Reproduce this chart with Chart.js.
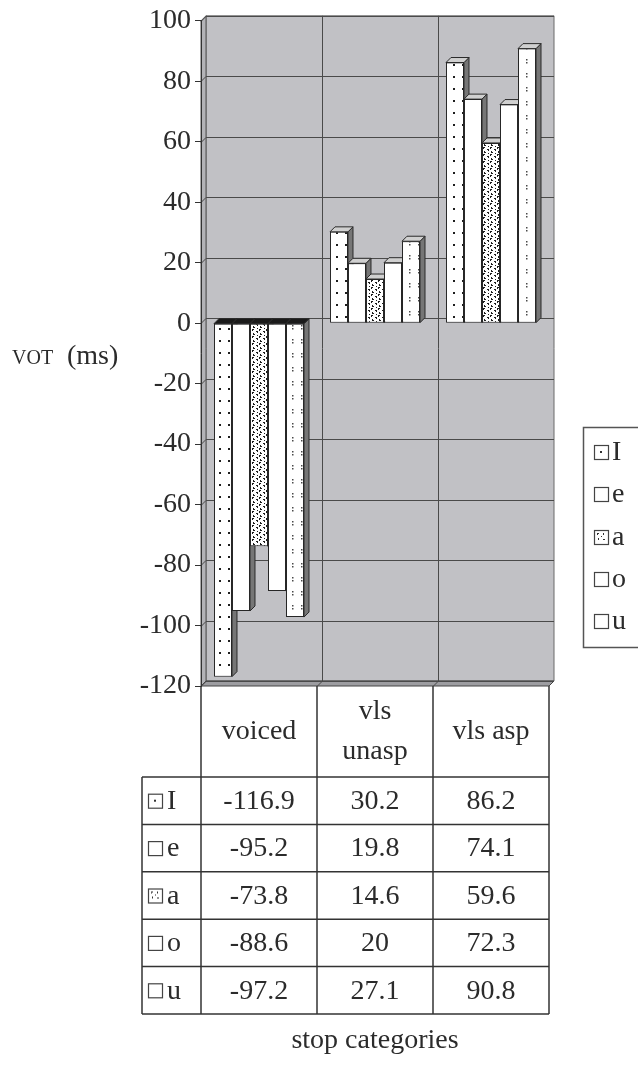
<!DOCTYPE html>
<html>
<head>
<meta charset="utf-8">
<script src="https://cdn.jsdelivr.net/npm/chart.js@4.4.0/dist/chart.umd.min.js"></script>
<style>
  html, body { margin: 0; padding: 0; background: #ffffff; }
  #wrap { width: 638px; height: 1065px; }
</style>
</head>
<body>
<div id="wrap"><canvas id="c" width="638" height="1065"></canvas></div>
<script>
// Stop categories and mean VOT (ms) per vowel context
const categories = ['voiced', ['vls', 'unasp'], 'vls asp'];
const vowelNames = ['I', 'e', 'a', 'o', 'u'];
const vowelI = [-116.9, 30.2, 86.2];
const vowelE = [-95.2, 19.8, 74.1];
const vowelA = [-73.8, 14.6, 59.6];
const vowelO = [-88.6, 20, 72.3];
const vowelU = [-97.2, 27.1, 90.8];
const yMin = -120, yMax = 100, yStep = 20;

const SERIF = "'Liberation Serif', 'DejaVu Serif', serif";
const INK = '#2b2b2b';
const DEPTH = 5;
const FONT_PX = 28;

// Fill patterns for the bar faces
function makePattern(kind) {
  const t = document.createElement('canvas');
  const c = t.getContext('2d');
  if (kind === 'dots') {
    t.width = 9; t.height = 12;
    c.fillStyle = '#ffffff'; c.fillRect(0, 0, 9, 12);
    c.fillStyle = '#1e1e1e'; c.fillRect(3, 4, 2, 2);
  } else if (kind === 'speckle') {
    t.width = 7; t.height = 7;
    c.fillStyle = '#ffffff'; c.fillRect(0, 0, 7, 7);
    c.fillStyle = '#1e1e1e';
    c.fillRect(0, 0, 2, 1); c.fillRect(0, 1, 1, 1);
    c.fillRect(4, 2, 2, 1); c.fillRect(5, 3, 1, 1);
    c.fillRect(1, 4, 1, 2); c.fillRect(2, 5, 1, 1);
    c.fillRect(5, 6, 1, 1);
  } else if (kind === 'pairs') {
    t.width = 9; t.height = 14;
    c.fillStyle = '#ffffff'; c.fillRect(0, 0, 9, 14);
    c.fillStyle = '#4a4a4a'; c.fillRect(4, 3, 1.5, 1.5); c.fillRect(4, 6, 1.5, 1.5);
  } else {
    t.width = 4; t.height = 4;
    c.fillStyle = '#ffffff'; c.fillRect(0, 0, 4, 4);
  }
  return c.createPattern(t, 'repeat');
}

const barFills = [makePattern('dots'), makePattern('plain'), makePattern('speckle'), makePattern('plain'), makePattern('pairs')];
const seriesValues = [vowelI, vowelE, vowelA, vowelO, vowelU];

// Small key swatch for the table and legend
function drawSwatch(ctx, i, x, y, s) {
  ctx.save();
  ctx.fillStyle = '#ffffff';
  ctx.fillRect(x, y, s, s);
  ctx.fillStyle = '#333';
  if (i === 0) {
    ctx.fillRect(x + s / 2 - 1, y + s / 2 - 1, 2, 2);
  } else if (i === 2) {
    ctx.fillRect(x + 3, y + 3, 2, 1); ctx.fillRect(x + 3, y + 4, 1, 1);
    ctx.fillRect(x + 9, y + 3, 1, 2);
    ctx.fillRect(x + 4, y + 8, 1, 2); ctx.fillRect(x + 9, y + 9, 2, 1);
    ctx.fillRect(x + 7, y + 6, 1, 1);
  }
  ctx.strokeStyle = '#444';
  ctx.lineWidth = 1.2;
  ctx.strokeRect(x + 0.5, y + 0.5, s, s);
  ctx.restore();
}

function poly(ctx, pts, fill, stroke, lw) {
  ctx.beginPath();
  ctx.moveTo(pts[0][0], pts[0][1]);
  for (let k = 1; k < pts.length; k++) ctx.lineTo(pts[k][0], pts[k][1]);
  ctx.closePath();
  if (fill) { ctx.fillStyle = fill; ctx.fill(); }
  if (stroke) { ctx.strokeStyle = stroke; ctx.lineWidth = lw || 1; ctx.stroke(); }
}

// Back wall, side wall and floor of the 3-D plot box
const wallPlugin = {
  id: 'wall',
  beforeDraw(chart) {
    const ctx = chart.ctx;
    const { left, right, top, bottom } = chart.chartArea;
    const ys = chart.scales.y;
    const d = DEPTH;
    const catW = (right - left) / categories.length;
    ctx.save();
    ctx.fillStyle = '#ffffff';
    ctx.fillRect(0, 0, chart.width, chart.height);
    poly(ctx, [[left + d, top - d], [right + d, top - d], [right + d, bottom - d], [left + d, bottom - d]], '#c1c1c5', '#6a6a6a', 1);
    poly(ctx, [[left, top], [left + d, top - d], [left + d, bottom - d], [left, bottom]], '#b3b3b7', '#555', 1);
    poly(ctx, [[left, bottom], [left + d, bottom - d], [right + d, bottom - d], [right, bottom]], '#9d9da1', '#444', 1);
    ctx.strokeStyle = '#4a4a4a';
    ctx.lineWidth = 1;
    for (let v = yMin; v <= yMax; v += yStep) {
      const y = Math.round(ys.getPixelForValue(v)) + 0.5;
      ctx.beginPath();
      ctx.moveTo(left, y);
      ctx.lineTo(left + d, y - d);
      ctx.lineTo(right + d, y - d);
      ctx.stroke();
    }
    for (let i = 1; i < categories.length; i++) {
      const xb = Math.round(left + i * catW) + 0.5;
      ctx.beginPath();
      ctx.moveTo(xb + d, top - d);
      ctx.lineTo(xb + d, bottom - d);
      ctx.lineTo(xb, bottom);
      ctx.stroke();
    }
    ctx.restore();
  }
};

// Columns drawn left to right with their top and side faces
const columnPlugin = {
  id: 'columns3d',
  beforeDatasetsDraw(chart) {
    const ctx = chart.ctx;
    const d = DEPTH;
    const n = chart.data.labels.length;
    ctx.save();
    for (let c = 0; c < n; c++) {
      for (let s = 0; s < chart.data.datasets.length; s++) {
        const el = chart.getDatasetMeta(s).data[c];
        if (!el) continue;
        const p = el.getProps(['x', 'y', 'base', 'width'], true);
        const x1 = p.x - p.width / 2, x2 = p.x + p.width / 2;
        const top = Math.min(p.y, p.base), bot = Math.max(p.y, p.base);
        const val = chart.data.datasets[s].data[c];
        poly(ctx, [[x2, top], [x2 + d, top - d], [x2 + d, bot - d], [x2, bot]], '#767676', '#2a2a2a', 1);
        poly(ctx, [[x1, top], [x1 + d, top - d], [x2 + d, top - d], [x2, top]], val >= 0 ? '#d0d0d0' : '#1a1a1a', '#2a2a2a', 1);
        el.draw(ctx, chart.chartArea);
      }
    }
    ctx.restore();
    return false;
  }
};

// Data table under the plot, legend box and axis titles
const tablePlugin = {
  id: 'dataTable',
  afterDraw(chart) {
    const ctx = chart.ctx;
    const { left, right, bottom } = chart.chartArea;
    const catW = (right - left) / categories.length;
    const headTop = bottom, headBottom = 777;
    const rowH = 47.4;
    const keyLeft = 142;
    const tableBottom = headBottom + rowH * vowelNames.length;
    ctx.save();
    ctx.strokeStyle = '#333';
    ctx.lineWidth = 1.5;
    for (let i = 0; i <= categories.length; i++) {
      const x = left + i * catW;
      ctx.beginPath(); ctx.moveTo(x, headTop); ctx.lineTo(x, tableBottom); ctx.stroke();
    }
    ctx.beginPath(); ctx.moveTo(keyLeft, headBottom); ctx.lineTo(keyLeft, tableBottom); ctx.stroke();
    for (let r = 0; r <= vowelNames.length; r++) {
      const y = headBottom + r * rowH;
      ctx.beginPath(); ctx.moveTo(keyLeft, y); ctx.lineTo(right, y); ctx.stroke();
    }
    ctx.fillStyle = INK;
    ctx.textAlign = 'center';
    ctx.textBaseline = 'middle';
    ctx.font = FONT_PX + 'px ' + SERIF;
    categories.forEach((lab, i) => {
      const cx = left + (i + 0.5) * catW;
      const lines = Array.isArray(lab) ? lab : [lab];
      const mid = (headTop + headBottom) / 2;
      lines.forEach((ln, k) => {
        ctx.fillText(ln, cx, mid + (k - (lines.length - 1) / 2) * 40);
      });
    });
    seriesValues.forEach((vals, r) => {
      const cy = headBottom + (r + 0.5) * rowH + 1;
      vals.forEach((v, i) => {
        ctx.textAlign = 'center';
        ctx.fillText(String(v), left + (i + 0.5) * catW, cy);
      });
      drawSwatch(ctx, r, 148, cy - 8, 14);
      ctx.textAlign = 'left';
      ctx.fillText(vowelNames[r], 167, cy);
    });
    ctx.textAlign = 'center';
    ctx.fillText('stop categories', (left + right) / 2, 1041);
    ctx.textAlign = 'left';
    ctx.textBaseline = 'alphabetic';
    ctx.font = '20px ' + SERIF;
    ctx.fillText('VOT', 12, 364);
    ctx.font = FONT_PX + 'px ' + SERIF;
    ctx.fillText('(ms)', 67, 364);
    ctx.strokeStyle = '#555';
    ctx.lineWidth = 1.5;
    ctx.strokeRect(583.5, 427.5, 70, 220);
    const centers = [452, 494, 537, 579, 621];
    ctx.textBaseline = 'middle';
    vowelNames.forEach((nm, i) => {
      drawSwatch(ctx, i, 594, centers[i] - 7, 14);
      ctx.fillStyle = INK;
      ctx.fillText(nm, 612, centers[i] + 1);
    });
    ctx.restore();
  }
};

const datasets = vowelNames.map((nm, i) => ({
  label: nm,
  data: seriesValues[i],
  backgroundColor: barFills[i],
  borderColor: '#262626',
  borderWidth: 1,
  borderSkipped: false,
  categoryPercentage: 0.776,
  barPercentage: 1.0
}));

new Chart(document.getElementById('c'), {
  type: 'bar',
  data: { labels: categories, datasets },
  options: {
    responsive: false,
    animation: false,
    devicePixelRatio: 1,
    layout: { padding: { left: 0, top: 20, right: 89, bottom: 379 } },
    plugins: { legend: { display: false }, tooltip: { enabled: false } },
    scales: {
      x: { display: false, grid: { display: false } },
      y: {
        min: yMin,
        max: yMax,
        afterFit(scale) { scale.width = 201; },
        ticks: { stepSize: yStep, color: INK, font: { family: SERIF, size: FONT_PX }, padding: 4 },
        grid: { drawOnChartArea: false, drawTicks: true, tickLength: 6, color: '#333' },
        border: { display: true, color: '#333', width: 1 }
      }
    }
  },
  plugins: [wallPlugin, columnPlugin, tablePlugin]
});
</script>
</body>
</html>
